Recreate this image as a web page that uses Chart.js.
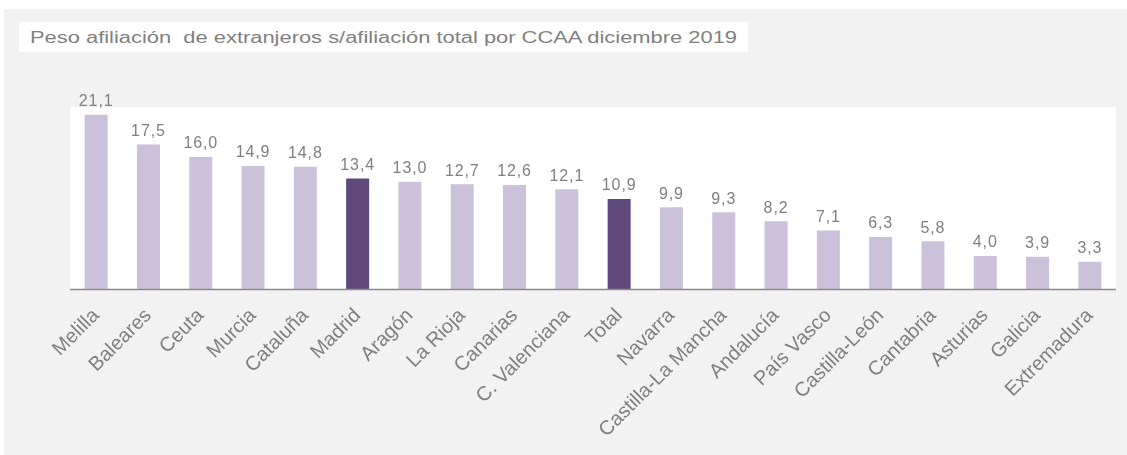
<!DOCTYPE html>
<html>
<head>
<meta charset="utf-8">
<script src="https://cdn.jsdelivr.net/npm/chart.js@4.4.0/dist/chart.umd.min.js"></script>
<style>
  body { margin: 0; background: #fff; }
  #panel { position: absolute; left: 4px; top: 9px; width: 1123px; height: 446px; background: #f2f2f2; }
  #titlebox { position: absolute; left: 19px; top: 22px; height: 30px; width: 729px; background: #fff; }
  #title { position: absolute; left: 11px; top: 0; font-family: "Liberation Sans", Arial, sans-serif; font-size: 16px;
           color: #808080; line-height: 31px; white-space: pre; transform-origin: 0 50%; }
  #wrap { position: absolute; left: 0; top: 0; width: 1127px; height: 455px; }
</style>
</head>
<body>
<div id="panel"></div>
<div id="titlebox"><span id="title">Peso afiliación  de extranjeros s/afiliación total por CCAA diciembre 2019</span></div>
<div id="wrap"><canvas id="chart"></canvas></div>

<script>
var regiones = ['Melilla', 'Baleares', 'Ceuta', 'Murcia', 'Cataluña', 'Madrid', 'Aragón', 'La Rioja', 'Canarias',
  'C. Valenciana', 'Total', 'Navarra', 'Castilla-La Mancha', 'Andalucía', 'País Vasco', 'Castilla-León',
  'Cantabria', 'Asturias', 'Galicia', 'Extremadura'];
var peso = [21.1, 17.5, 16.0, 14.9, 14.8, 13.4, 13.0, 12.7, 12.6, 12.1, 10.9, 9.9, 9.3, 8.2, 7.1, 6.3, 5.8, 4.0, 3.9, 3.3];
var destacadas = ['Madrid', 'Total'];

// el titulo del original es mas ancho que Arial: se estira para ocupar lo mismo
var t = document.getElementById('title');
t.style.transform = 'scaleX(' + (707 / t.getBoundingClientRect().width) + ')';

var colores = regiones.map(function (r) {
  return destacadas.indexOf(r) >= 0 ? '#5f4a7b' : '#ccc1da';
});

// fondo blanco del area del grafico y etiquetas encima de las barras
var areaPlugin = {
  id: 'area',
  beforeDraw: function (chart) {
    var a = chart.chartArea, ctx = chart.ctx;
    ctx.save();
    ctx.fillStyle = '#ffffff';
    ctx.fillRect(a.left, a.top, a.right - a.left, a.bottom - a.top);
    ctx.restore();
  },
  afterDatasetsDraw: function (chart) {
    var ctx = chart.ctx;
    var meta = chart.getDatasetMeta(0);
    ctx.save();
    ctx.font = '16px "Liberation Sans", Arial, sans-serif';
    ctx.letterSpacing = '0.9px';
    ctx.fillStyle = '#7f7f7f';
    ctx.textAlign = 'center';
    ctx.textBaseline = 'bottom';
    meta.data.forEach(function (bar, i) {
      ctx.fillText(peso[i].toFixed(1).replace('.', ','), bar.x, bar.y - 5);
    });
    ctx.restore();
  }
};

var axisPlugin = {
  id: 'axisLine',
  beforeInit: function (chart) { chart.ctx.letterSpacing = '1.4px'; },
  afterDatasetsDraw: function (chart) {
    var a = chart.chartArea, ctx = chart.ctx;
    ctx.save();
    ctx.strokeStyle = '#8c8c8c';
    ctx.lineWidth = 1.5;
    ctx.beginPath();
    ctx.moveTo(a.left, a.bottom + 0.5);
    ctx.lineTo(a.right, a.bottom + 0.5);
    ctx.stroke();
    ctx.restore();
  }
};

new Chart(document.getElementById('chart'), {
  type: 'bar',
  data: {
    labels: regiones,
    datasets: [{
      data: peso,
      backgroundColor: colores,
      barPercentage: 0.44,
      categoryPercentage: 1.0
    }]
  },
  plugins: [areaPlugin, axisPlugin],
  options: {
    responsive: true,
    maintainAspectRatio: false,
    animation: false,
    layout: { padding: { left: 70, right: 11, top: 107, bottom: 0 } },
    plugins: { legend: { display: false }, tooltip: { enabled: false }, title: { display: false } },
    scales: {
      y: { display: false, min: 0, max: 22.05 },
      x: {
        grid: { display: false, drawTicks: false },
        border: { display: false },
        ticks: {
          minRotation: 45, maxRotation: 45, padding: 15,
          color: '#7f7f7f',
          font: { family: '"Liberation Sans", Arial, sans-serif', size: 20 }
        },
        afterFit: function (scale) {
          scale.height = 166;
          scale.paddingLeft = 0;
          scale.paddingRight = 0;
        }
      }
    }
  }
});
</script>
</body>
</html>
